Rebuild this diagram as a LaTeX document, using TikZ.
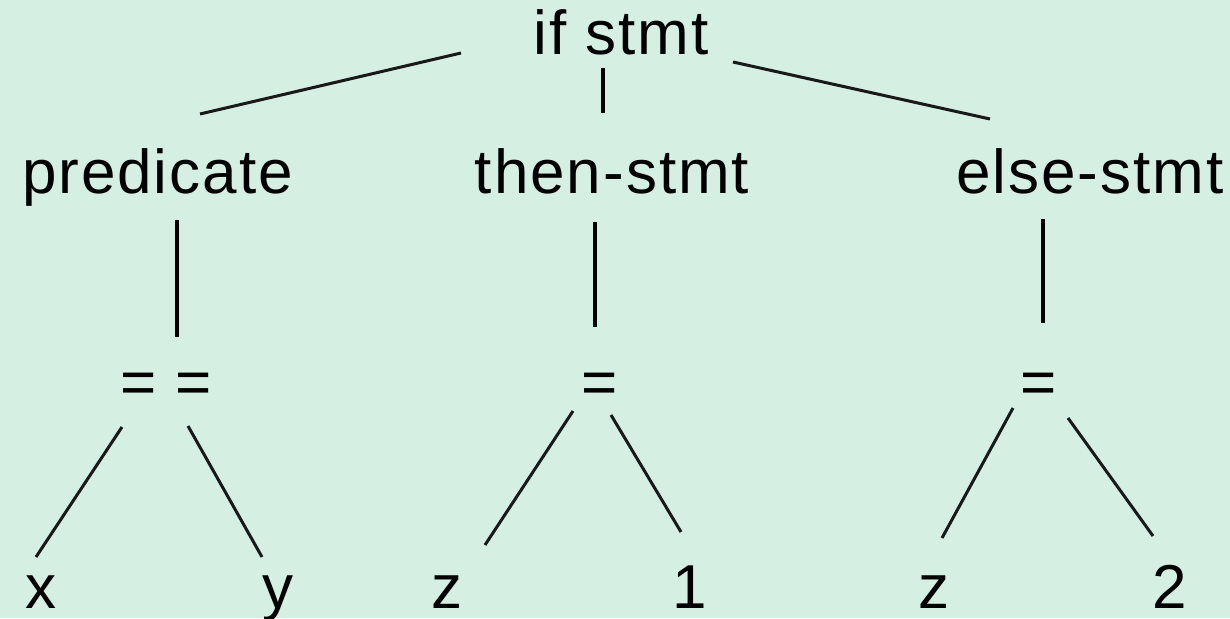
\documentclass[tikz,border=0pt]{standalone}
\usepackage{fontspec}
\setmainfont{Liberation Sans}[LetterSpace=3.2]
\usetikzlibrary{calc}
\definecolor{bgc}{RGB}{213,239,226}
\begin{document}
\begin{tikzpicture}[x=1pt,y=-1pt,
  lbl/.style={anchor=base,inner sep=0pt,outer sep=0pt,font=\fontsize{62pt}{70pt}\selectfont},
  edge/.style={line width=3pt,draw=black!90},
  vedge/.style={line width=4pt,draw=black}]
\fill[bgc] (0,0) rectangle (1230,618);
\useasboundingbox (0,0) rectangle (1230,618);
% nodes
\node[lbl] (if)   at (621,55)   {if stmt};
\node[lbl] (pred) at (157.5,193) {predicate};
\node[lbl] (then) at (612,193)  {then-stmt};
\node[lbl] (else) at (1090,193) {else-stmt};
\node[lbl] (eqa)  at (166,403)  {= =};
\node[lbl] (eqb)  at (599.5,403) {=};
\node[lbl] (eqc)  at (1039,403) {=};
\node[lbl] (x)    at (41,608)   {x};
\node[lbl] (y)    at (278,608)  {y};
\node[lbl] (za)   at (447,608)  {z};
\node[lbl] (one)  at (690,608)  {1};
\node[lbl] (zb)   at (933.5,608) {z};
\node[lbl] (two)  at (1170,608) {2};
% connectors
\draw[edge]  ([shift={(-160,-2)}]if.base) -- ([shift={(42.5,-79)}]pred.base);
\draw[vedge] ([shift={(-18,13)}]if.base) -- ([shift={(-9,-80)}]then.base);
\draw[edge]  ([shift={(112,7)}]if.base) -- ([shift={(-100,-74)}]else.base);
\draw[vedge] ([shift={(19.5,27)}]pred.base) -- ([shift={(11,-66)}]eqa.base);
\draw[vedge] ([shift={(-17,29)}]then.base) -- ([shift={(-4.5,-76)}]eqb.base);
\draw[vedge] ([shift={(-47,26)}]else.base) -- ([shift={(4,-80)}]eqc.base);
\draw[edge]  ([shift={(-44,24)}]eqa.base) -- ([shift={(-5,-51)}]x.base);
\draw[edge]  ([shift={(22,23)}]eqa.base) -- ([shift={(-16,-51)}]y.base);
\draw[edge]  ([shift={(-26.5,8)}]eqb.base) -- ([shift={(38,-63)}]za.base);
\draw[edge]  ([shift={(11.5,12)}]eqb.base) -- ([shift={(-9,-76)}]one.base);
\draw[edge]  ([shift={(-26,5)}]eqc.base) -- ([shift={(8.5,-70)}]zb.base);
\draw[edge]  ([shift={(29,15)}]eqc.base) -- ([shift={(-17,-72)}]two.base);
\end{tikzpicture}
\end{document}
